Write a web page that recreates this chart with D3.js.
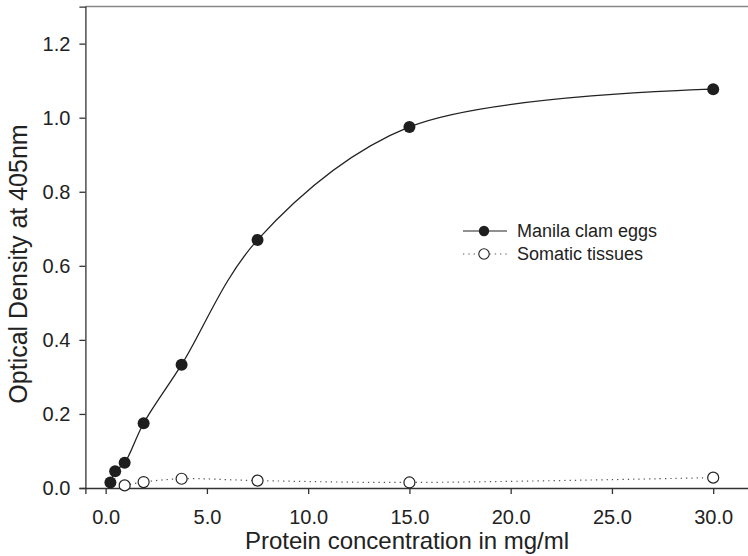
<!DOCTYPE html>
<html>
<head>
<meta charset="utf-8">
<script src="https://cdn.jsdelivr.net/npm/d3@7"></script>
<style>
  body { margin: 0; background: #fff; }
  text { font-family: "Liberation Sans", Arial, sans-serif; fill: #222; }
</style>
</head>
<body>
<div id="chart"></div>
<script>
// data
var eggConc = [0.234, 0.469, 0.938, 1.875, 3.75, 7.5, 15, 30];
var eggOD = [0.015, 0.045, 0.068, 0.175, 0.333, 0.67, 0.975, 1.077];
var somaticConc = [0.938, 1.875, 3.75, 7.5, 15, 30];
var somaticOD = [0.007, 0.016, 0.025, 0.02, 0.015, 0.028];
var xTicks = [0, 5, 10, 15, 20, 25, 30];
var yTicks = [0, 0.2, 0.4, 0.6, 0.8, 1.0, 1.2];
var seriesNames = ["Manila clam eggs", "Somatic tissues"];

var width = 748, height = 556;

var svg = d3.select("#chart")
    .append("svg")
    .attr("width", width)
    .attr("height", height);

var x = d3.scaleLinear().domain([-1, 32]).range([85.4, 753.7]);
var y = d3.scaleLinear().domain([0, 1.3]).range([488, 6.6]);

// top frame line
svg.append("line")
    .attr("x1", x(-1)).attr("x2", width)
    .attr("y1", y(1.3)).attr("y2", y(1.3))
    .attr("stroke", "#888").attr("stroke-width", 1.5);

var xAxis = svg.append("g")
    .attr("transform", "translate(0," + y(0) + ")")
    .call(d3.axisBottom(x).tickValues(xTicks).tickFormat(d3.format(".1f")).tickSizeOuter(0).tickSize(6).tickPadding(16));
var yAxis = svg.append("g")
    .attr("transform", "translate(" + x(-1) + ",0)")
    .call(d3.axisLeft(y).tickValues(yTicks).tickFormat(d3.format(".1f")).tickSizeOuter(0).tickSize(6).tickPadding(9));

[xAxis, yAxis].forEach(function(g) {
    g.selectAll("path, line").attr("stroke", "#333").attr("stroke-width", 1.3);
    g.selectAll("text").attr("font-size", "20px").attr("fill", "#222")
        .style("font-family", "'Liberation Sans', Arial, sans-serif");
});

// axis titles
svg.append("text")
    .attr("x", 407).attr("y", 549)
    .attr("text-anchor", "middle")
    .attr("font-size", "24px")
    .text("Protein concentration in mg/ml");
svg.append("text")
    .attr("transform", "translate(27,264) rotate(-90)")
    .attr("text-anchor", "middle")
    .attr("font-size", "25px")
    .text("Optical Density at 405nm");

var eggs = eggConc.map(function(c, i) { return [c, eggOD[i]]; });
var somatic = somaticConc.map(function(c, i) { return [c, somaticOD[i]]; });

var line = d3.line()
    .x(function(d) { return x(d[0]); })
    .y(function(d) { return y(d[1]); })
    .curve(d3.curveCatmullRom.alpha(0.5));

svg.append("path")
    .datum(somatic)
    .attr("d", line)
    .attr("fill", "none")
    .attr("stroke", "#555")
    .attr("stroke-width", 1.2)
    .attr("stroke-dasharray", "1.3,4");

svg.append("path")
    .datum(eggs)
    .attr("d", line)
    .attr("fill", "none")
    .attr("stroke", "#222")
    .attr("stroke-width", 1.3);

svg.selectAll("circle.som")
    .data(somatic)
    .enter()
    .append("circle")
    .attr("class", "som")
    .attr("cx", function(d) { return x(d[0]); })
    .attr("cy", function(d) { return y(d[1]); })
    .attr("r", 5.5)
    .attr("fill", "#fff")
    .attr("stroke", "#222")
    .attr("stroke-width", 1.2);

svg.selectAll("circle.egg")
    .data(eggs)
    .enter()
    .append("circle")
    .attr("class", "egg")
    .attr("cx", function(d) { return x(d[0]); })
    .attr("cy", function(d) { return y(d[1]); })
    .attr("r", 6)
    .attr("fill", "#1e1e1e");

// legend
var legend = svg.append("g").attr("transform", "translate(463,231)");
seriesNames.forEach(function(name, i) {
    var row = legend.append("g").attr("transform", "translate(0," + (i * 23) + ")");
    row.append("line")
        .attr("x1", 0).attr("x2", 44)
        .attr("stroke", i == 0 ? "#222" : "#555")
        .attr("stroke-width", 1.2)
        .attr("stroke-dasharray", i == 0 ? null : "1.3,4");
    row.append("circle")
        .attr("cx", 21).attr("r", 5.2)
        .attr("fill", i == 0 ? "#1e1e1e" : "#fff")
        .attr("stroke", "#222")
        .attr("stroke-width", i == 0 ? 0 : 1.1);
    row.append("text")
        .attr("x", 54).attr("dy", "0.35em")
        .attr("font-size", "18px")
        .text(name);
});
</script>
</body>
</html>
